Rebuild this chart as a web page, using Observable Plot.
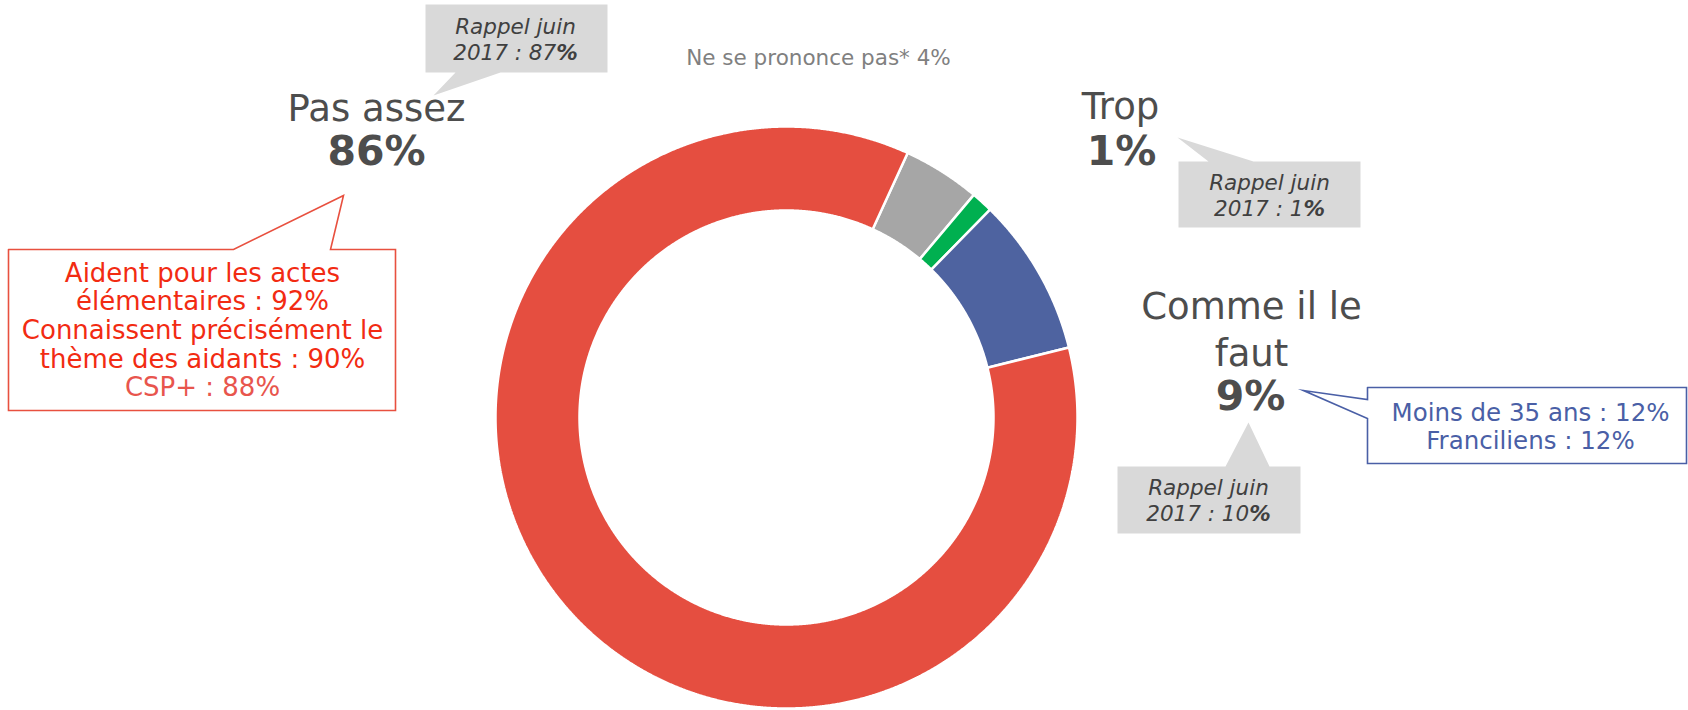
<!DOCTYPE html>
<html>
<head>
<meta charset="utf-8">
<script src="https://cdn.jsdelivr.net/npm/d3@7"></script>
<script src="https://cdn.jsdelivr.net/npm/@observablehq/plot@0.6"></script>
<style>
  html, body { margin: 0; padding: 0; background: #fff; }
  #chart svg { display: block; }
</style>
</head>
<body>
<div id="chart"></div>
<script>
// ---------- DATA ----------
const categories = ["Ne se prononce pas*", "Trop", "Comme il le faut", "Pas assez"]; // clockwise order
const shares = [4.3, 1.2, 8.8, 85.7];
const sliceColors = ["#a6a6a6", "#00b050", "#4e63a0", "#e54e40"];
const mainLabels = ["Pas assez", "Trop", "Comme il le\nfaut"];
const mainValues = ["86%", "1%", "9%"];
const nspLabel = "Ne se prononce pas* 4%";
const rappelLabels = ["Rappel juin\n2017 : 87%", "Rappel juin\n2017 : 1%", "Rappel juin\n2017 : 10%"];
const redLines = ["Aident pour les actes", "élémentaires : 92%", "Connaissent précisément le", "thème des aidants : 90%"];
const redLastLine = ["CSP+ : 88%"];
const blueLines = ["Moins de 35 ans : 12%", "Franciliens : 12%"];

// ---------- LAYOUT ----------
const W = 1688, H = 710;
const FONT = "DejaVu Sans, Verdana, sans-serif";
const donut = {cx: 786, cy: 417, outer: 291, inner: 207, startDeg: 24.6};
const mainPos = {x: [376, 1120, 1251], y: [120, 118, 365]};
const valuePos = {x: [376, 1121, 1250], y: [164, 164, 409]};
const rappelPos = {x: [515, 1269, 1208], y: [59, 215, 520]};
const redPos = {x: 202, y0: 281, step: 28.7};
const bluePos = {x: 1530, y0: 420, step: 28};
const calloutShapes = [
  {id: "g1", kind: "gray", pts: [[425,4],[607,4],[607,72],[500,72],[433,95],[455,72],[425,72],[425,4]]},
  {id: "g2", kind: "gray", pts: [[1178,161],[1208,161],[1177,137],[1253,161],[1360,161],[1360,227],[1178,227],[1178,161]]},
  {id: "g3", kind: "gray", pts: [[1117,466],[1225,466],[1248,422],[1269,466],[1300,466],[1300,533],[1117,533],[1117,466]]},
  {id: "r",  kind: "red",  pts: [[8,249],[233,249],[343,195],[330,249],[395,249],[395,410],[8,410],[8,249]]},
  {id: "b",  kind: "blue", pts: [[1367,387],[1686,387],[1686,463],[1367,463],[1367,418],[1303,390],[1367,399],[1367,387]]}
];

// ---------- DONUT GEOMETRY from shares ----------
const a0 = donut.startDeg * Math.PI / 180;
const arcs = d3.pie().sort(null).startAngle(a0).endAngle(a0 + 2 * Math.PI)(shares);
const ring = [];
arcs.forEach((p, i) => {
  const n = Math.max(8, Math.ceil((p.endAngle - p.startAngle) / 0.004));
  const pts = [];
  for (let k = 0; k <= n; k++) pts.push([p.startAngle + (p.endAngle - p.startAngle) * k / n, donut.outer]);
  for (let k = n; k >= 0; k--) pts.push([p.startAngle + (p.endAngle - p.startAngle) * k / n, donut.inner]);
  pts.push(pts[0]);
  pts.forEach(([a, r]) => ring.push({cat: categories[i], x: donut.cx + r * Math.sin(a), y: donut.cy - r * Math.cos(a)}));
});

const calloutPts = kind => calloutShapes.filter(c => c.kind === kind)
  .flatMap(c => c.pts.map(([x, y]) => ({id: c.id, x, y})));

const textRows = (lines, pos) => lines.map((t, i) => ({t, x: pos.x[i], y: pos.y[i]}));

const chart = Plot.plot({
  width: W,
  height: H,
  margin: 0,
  style: {background: "white", fontFamily: FONT},
  x: {domain: [0, W], range: [0, W], axis: null},
  y: {domain: [0, H], range: [0, H], axis: null},
  color: {domain: categories, range: sliceColors},
  marks: [
    Plot.line(ring, {x: "x", y: "y", z: "cat", fill: "cat", stroke: "white", strokeWidth: 2.5, strokeLinejoin: "miter"}),
    Plot.line(calloutPts("gray"), {x: "x", y: "y", z: "id", fill: "#d9d9d9", stroke: "none"}),
    Plot.line(calloutPts("red"), {x: "x", y: "y", z: "id", fill: "white", stroke: "#e8503f", strokeWidth: 1.6, strokeLinejoin: "miter", strokeMiterlimit: 10}),
    Plot.line(calloutPts("blue"), {x: "x", y: "y", z: "id", fill: "white", stroke: "#4a5fa6", strokeWidth: 1.6, strokeLinejoin: "miter", strokeMiterlimit: 10}),
    Plot.text(textRows(mainLabels, mainPos), {x: "x", y: "y", text: "t", fontSize: 37, fill: "#4d4d4d", lineAnchor: "bottom", lineHeight: 1.27, fontFamily: FONT}),
    Plot.text(textRows(mainValues, valuePos), {x: "x", y: "y", text: "t", fontSize: 41, fontWeight: "bold", fill: "#4d4d4d", lineAnchor: "bottom", fontFamily: FONT}),
    Plot.text([nspLabel], {x: 818, y: 64, text: d => d, fontSize: 21.5, fill: "#808080", lineAnchor: "bottom", fontFamily: FONT}),
    Plot.text(textRows(rappelLabels, rappelPos), {x: "x", y: "y", text: "t", fontSize: 21.5, fontStyle: "italic", fill: "#404040", lineAnchor: "bottom", lineHeight: 1.17, fontFamily: FONT}),
    Plot.text(redLines, {x: redPos.x, y: (d, i) => redPos.y0 + i * redPos.step, text: d => d, fontSize: 26, fill: "#f22b12", lineAnchor: "bottom", fontFamily: FONT}),
    Plot.text(redLastLine, {x: redPos.x, y: redPos.y0 + 4 * redPos.step, text: d => d, fontSize: 26, fill: "#e8554d", lineAnchor: "bottom", fontFamily: FONT}),
    Plot.text(blueLines, {x: bluePos.x, y: (d, i) => bluePos.y0 + i * bluePos.step, text: d => d, fontSize: 24.5, fill: "#4a5fa6", lineAnchor: "bottom", fontFamily: FONT})
  ]
});

// bold "%" in the "Rappel" callouts
chart.querySelectorAll("text, tspan").forEach(el => {
  if (el.childElementCount === 0 && /^2017 : \d+%$/.test(el.textContent)) {
    const t = el.textContent;
    el.textContent = t.slice(0, -1);
    const b = document.createElementNS("http://www.w3.org/2000/svg", "tspan");
    b.setAttribute("font-weight", "bold");
    b.textContent = "%";
    el.appendChild(b);
  }
});

document.getElementById("chart").appendChild(chart);
</script>
</body>
</html>
